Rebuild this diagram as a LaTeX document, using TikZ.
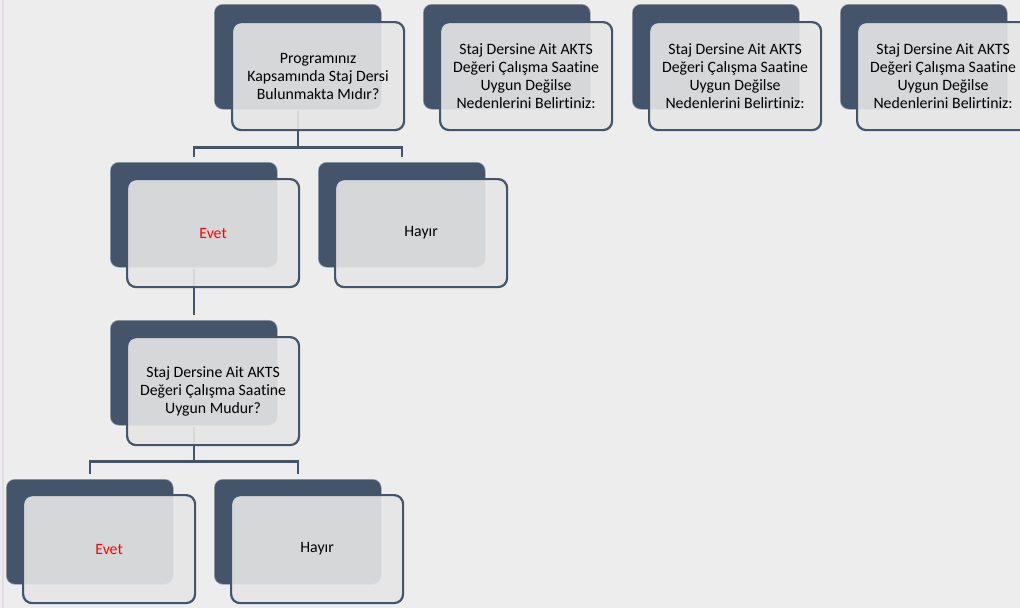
\documentclass[tikz,border=0pt]{standalone}
\usepackage{fontspec}
\setmainfont{Carlito}[Ligatures={NoCommon,NoRare,NoDiscretionary}]
\usetikzlibrary{calc}
\definecolor{pagebg}{HTML}{EDEDED}
\definecolor{slate}{HTML}{44546A}
\definecolor{panel}{HTML}{E6E6E6}
\definecolor{edgepink}{HTML}{E4DCE4}
\definecolor{yesred}{HTML}{FF0000}

\begin{document}
\begin{tikzpicture}[x=1pt,y=-1pt,
  backbox/.style={draw=white, draw opacity=0.55, line width=1.5pt, fill=slate,
    rounded corners=9pt, minimum width=168pt, minimum height=106pt,
    anchor=north west, inner sep=0pt},
  frontbox/.style={draw=slate, line width=2.2pt, fill=panel, fill opacity=0.9,
    text opacity=1, rounded corners=9pt, minimum width=172pt, minimum height=108pt,
    anchor=north west, align=center, inner sep=0pt,
    font=\fontsize{15.8}{18}\selectfont},
  link/.style={draw=slate, line width=2.5pt}]

  % page
  \useasboundingbox (0,0) rectangle (1020,608);
  \fill[pagebg] (0,0) rectangle (1020,608);
  \clip (0,0) rectangle (1020,608);
  \draw[edgepink, line width=2pt] (3,0) -- (3,608);

  % dark back plates
  \node[backbox] (q1b) at (213,3) {};
  \node[backbox] (r1b) at (422,3) {};
  \node[backbox] (r2b) at (631,3) {};
  \node[backbox] (r3b) at (839,3) {};
  \node[backbox] (c1b) at (109,161) {};
  \node[backbox] (c2b) at (317,161) {};
  \node[backbox] (m1b) at (109,319) {};
  \node[backbox] (e2b) at (5,478) {};
  \node[backbox] (h2b) at (213,478) {};

  % connectors
  \coordinate (j1) at ($(q1b.south)+(0,37)$);
  \draw[link] (q1b.south) -- (j1);
  \draw[link, shorten >=4pt] (j1) -| (c1b.north);
  \draw[link, shorten >=4pt] (j1) -| (c2b.north);
  \draw[link, shorten >=4pt] (c1b.south) -- (m1b.north);
  \coordinate (j2) at ($(m1b.south)+(0,35)$);
  \draw[link] (m1b.south) -- (j2);
  \draw[link, shorten >=4pt] (j2) -| (e2b.north);
  \draw[link, shorten >=4pt] (j2) -| (h2b.north);

  % light front panels with text
  \node[frontbox] (q1) at (231,21) {Programınız\\Kapsamında Staj Dersi\\Bulunmakta Mıdır?};
  \node[frontbox] (r1) at (439,21) {Staj Dersine Ait AKTS\\Değeri Çalışma Saatine\\Uygun Değilse\\Nedenlerini Belirtiniz:};
  \node[frontbox] (r2) at (648,21) {Staj Dersine Ait AKTS\\Değeri Çalışma Saatine\\Uygun Değilse\\Nedenlerini Belirtiniz:};
  \node[frontbox] (r3) at (856,21) {Staj Dersine Ait AKTS\\Değeri Çalışma Saatine\\Uygun Değilse\\Nedenlerini Belirtiniz:};
  \node[frontbox, text=yesred] (c1) at (126,178) {Evet};
  \node[frontbox] (c2) at (334,178) {Hayır};
  \node[frontbox] (m1) at (126,336) {Staj Dersine Ait AKTS\\Değeri Çalışma Saatine\\Uygun Mudur?};
  \node[frontbox, text=yesred] (e2) at (22,494) {Evet};
  \node[frontbox] (h2) at (230,494) {Hayır};
\end{tikzpicture}
\end{document}
